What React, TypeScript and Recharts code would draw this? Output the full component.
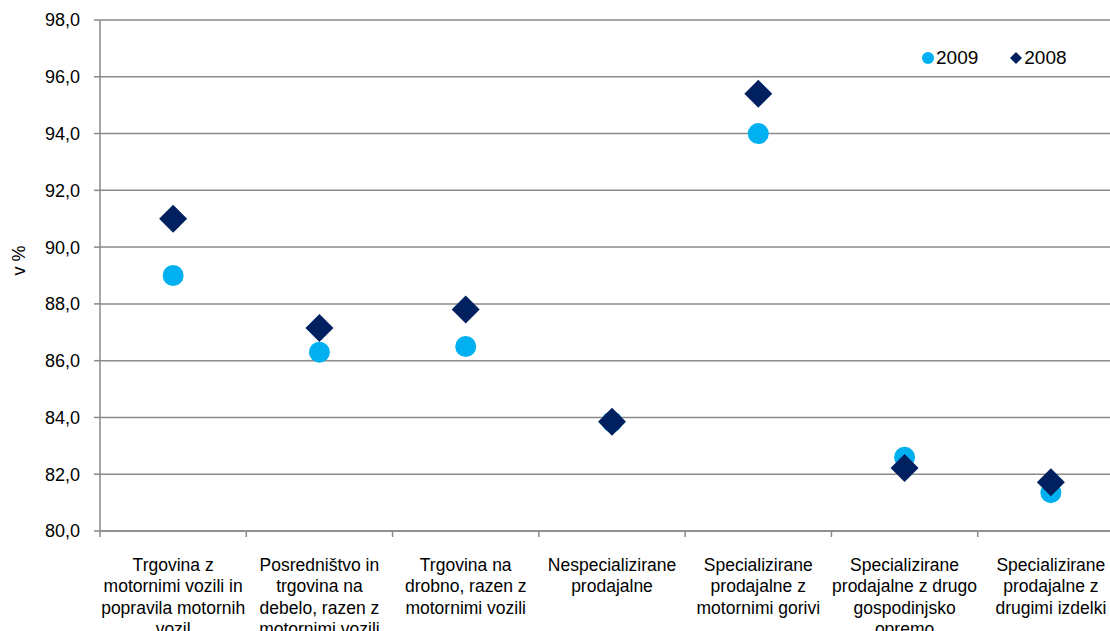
import React from 'react';
import { ScatterChart, Scatter, XAxis, YAxis, CartesianGrid } from 'recharts';

const categories: string[][] = [
  ['Trgovina z', 'motornimi vozili in', 'popravila motornih', 'vozil'],
  ['Posredništvo in', 'trgovina na', 'debelo, razen z', 'motornimi vozili'],
  ['Trgovina na', 'drobno, razen z', 'motornimi vozili'],
  ['Nespecializirane', 'prodajalne'],
  ['Specializirane', 'prodajalne z', 'motornimi gorivi'],
  ['Specializirane', 'prodajalne z drugo', 'gospodinjsko', 'opremo'],
  ['Specializirane', 'prodajalne z', 'drugimi izdelki'],
];
const values2009: number[] = [89.0, 86.3, 86.5, 83.85, 94.0, 82.6, 81.35];
const values2008: number[] = [91.0, 87.15, 87.8, 83.85, 95.4, 82.22, 81.72];
const yTicks: number[] = [80, 82, 84, 86, 88, 90, 92, 94, 96, 98];
const boundaryTicks: number[] = [0, 1, 2, 3, 4, 5, 6, 7];

const data2009 = values2009.map((v, i) => ({ x: i + 0.5, y: v }));
const data2008 = values2008.map((v, i) => ({ x: i + 0.5, y: v }));

const CHART_W = 1130;
const CHART_H = 660;
const MARGIN = { top: 20, right: 6, left: 0, bottom: 0 };
const Y_W = 100;
const PLOT_W = CHART_W - MARGIN.left - MARGIN.right - Y_W;
const BAND = PLOT_W / categories.length;

const FONT = '"Liberation Sans", Arial, sans-serif';
const GRAY = '#8a8a8a';
const LIGHT = '#00B0F0';
const NAVY = '#002060';

const CatTick = (props: any) => {
  const { x, y, payload } = props;
  const idx = payload.value;
  if (idx >= categories.length) return null;
  const lines = categories[idx];
  return (
    <text x={x + BAND / 2} y={y + 18} textAnchor="middle" fontFamily={FONT} fontSize={17.5} fill="#000">
      {lines.map((l, i) => (
        <tspan key={i} x={x + BAND / 2} dy={i === 0 ? 14 : 21.3}>
          {l}
        </tspan>
      ))}
    </text>
  );
};

const Circle = (props: any) => <circle cx={props.cx} cy={props.cy} r={10.5} fill={LIGHT} />;
const Diamond = (props: any) => {
  const { cx, cy } = props;
  const r = 14;
  return <polygon points={`${cx},${cy - r} ${cx + r},${cy} ${cx},${cy + r} ${cx - r},${cy}`} fill={NAVY} />;
};

const LegendBox = () => (
  <div
    style={{
      position: 'absolute',
      left: 921,
      top: 46,
      display: 'flex',
      alignItems: 'center',
      fontFamily: FONT,
      fontSize: 19,
      lineHeight: '24px',
      color: '#000',
    }}
  >
    <svg width={14} height={14} style={{ marginRight: 1 }}>
      <circle cx={7} cy={7} r={6} fill={LIGHT} />
    </svg>
    <span style={{ marginRight: 31 }}>2009</span>
    <svg width={14} height={14} style={{ marginRight: 1 }}>
      <polygon points="7,1 13,7 7,13 1,7" fill={NAVY} />
    </svg>
    <span>2008</span>
  </div>
);

export default function App() {
  return (
    <div style={{ position: 'absolute', left: 0, top: 0, width: 1110, height: 631, overflow: 'hidden', background: '#fff' }}>
      <ScatterChart width={CHART_W} height={CHART_H} margin={MARGIN}>
        <CartesianGrid horizontal vertical={false} stroke={GRAY} strokeWidth={1.5} />
        <XAxis
          type="number"
          dataKey="x"
          domain={[0, 7]}
          ticks={boundaryTicks}
          interval={0}
          allowDecimals
          stroke={GRAY}
          strokeWidth={1.5}
          tickSize={6}
          height={CHART_H - 531}
          tick={<CatTick />}
        />
        <YAxis
          type="number"
          dataKey="y"
          domain={[80, 98]}
          ticks={yTicks}
          interval={0}
          width={Y_W}
          stroke={GRAY}
          strokeWidth={1.5}
          tickSize={6}
          tickMargin={14}
          tickFormatter={(v: number) => v.toFixed(1).replace('.', ',')}
          tick={{ fill: '#000', fontFamily: FONT, fontSize: 18 }}
          label={{ value: 'v %', angle: -90, position: 'insideLeft', offset: 19, fill: '#000', fontFamily: FONT, fontSize: 18 }}
        />
        <Scatter name="2009" data={data2009} shape={<Circle />} isAnimationActive={false} />
        <Scatter name="2008" data={data2008} shape={<Diamond />} isAnimationActive={false} />
      </ScatterChart>
      <LegendBox />
    </div>
  );
}
